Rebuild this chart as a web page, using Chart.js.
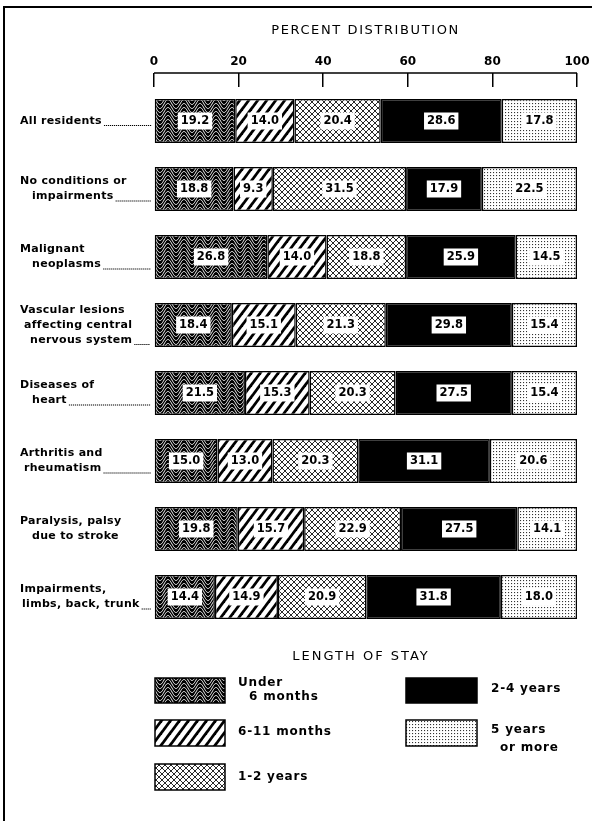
<!DOCTYPE html>
<html><head><meta charset="utf-8">
<script src="https://cdn.jsdelivr.net/npm/chart.js@4"></script>
<style>html,body{margin:0;padding:0;background:#fff;}canvas{display:block}</style>
</head><body><canvas id="c" width="595" height="821" style="width:595px;height:821px"></canvas>
<script>
// ---- data ----
const categories = [
  ['All residents'],
  ['No conditions or', 'impairments'],
  ['Malignant', 'neoplasms'],
  ['Vascular lesions', 'affecting central', 'nervous system'],
  ['Diseases of', 'heart'],
  ['Arthritis and', 'rheumatism'],
  ['Paralysis, palsy', 'due to stroke'],
  ['Impairments,', 'limbs, back, trunk']
];
const seriesNames = [['Under', '6 months'], ['6-11 months'], ['1-2 years'], ['2-4 years'], ['5 years', 'or more']];
const under6Months = [19.2, 18.8, 26.8, 18.4, 21.5, 15.0, 19.8, 14.4];
const months6to11  = [14.0, 9.3, 14.0, 15.1, 15.3, 13.0, 15.7, 14.9];
const years1to2    = [20.4, 31.5, 18.8, 21.3, 20.3, 20.3, 22.9, 20.9];
const years2to4    = [28.6, 17.9, 25.9, 29.8, 27.5, 31.1, 27.5, 31.8];
const years5plus   = [17.8, 22.5, 14.5, 15.4, 15.4, 20.6, 14.1, 18.0];
const xTickValues  = [0, 20, 40, 60, 80, 100];
const chartTitle = 'PERCENT DISTRIBUTION';
const legendTitle = 'LENGTH OF STAY';

// ---- patterns ----
function tile(w, h, draw) {
  const c = document.createElement('canvas'); c.width = w; c.height = h;
  const g = c.getContext('2d'); draw(g, w, h);
  return document.createElement('canvas').getContext('2d').createPattern(c, 'repeat');
}
const patWave = tile(16, 12, (g, w, h) => {
  g.fillStyle = '#000'; g.fillRect(0, 0, w, h);
  g.strokeStyle = '#fff'; g.lineWidth = 1;
  for (let k = -3; k <= 5; k++) {
    g.beginPath();
    for (let x = 0; x <= w; x += 0.5) {
      const y = k * 4 + 4.5 * Math.cos(2 * Math.PI * x / w);
      if (x === 0) g.moveTo(x, y); else g.lineTo(x, y);
    }
    g.stroke();
  }
});
const patStripe = tile(9, 12, (g, w, h) => {
  g.fillStyle = '#fff'; g.fillRect(0, 0, w, h);
  g.strokeStyle = '#000'; g.lineWidth = 2.8;
  for (const o of [-9, 0, 9]) { g.beginPath(); g.moveTo(o - 0.75, h + 1); g.lineTo(o + w + 0.75, -1); g.stroke(); }
});
const patCross = tile(6, 6, (g, w, h) => {
  g.fillStyle = '#fff'; g.fillRect(0, 0, w, h);
  g.strokeStyle = '#111'; g.lineWidth = 0.9;
  for (const o of [-6, 0, 6]) {
    g.beginPath(); g.moveTo(o, 0); g.lineTo(o + 6, 6); g.stroke();
    g.beginPath(); g.moveTo(o, 6); g.lineTo(o + 6, 0); g.stroke();
  }
  g.fillStyle = '#fff'; g.fillRect(2.5, 0, 1, 1); g.fillRect(0, 2.5, 1, 1);
});
const patDots = tile(3, 3, (g, w, h) => {
  g.fillStyle = '#fff'; g.fillRect(0, 0, w, h);
  g.fillStyle = '#333'; g.fillRect(1, 1, 1.1, 1.1);
});
const fills = [patWave, patStripe, patCross, '#000', patDots];
const seriesData = [under6Months, months6to11, years1to2, years2to4, years5plus];

const FONT = '"DejaVu Sans", sans-serif';

// ---- plugins ----
const decor = {
  id: 'decor',
  beforeDraw(chart) {
    const ctx = chart.ctx;
    ctx.save();
    ctx.fillStyle = '#fff'; ctx.fillRect(0, 0, chart.width, chart.height);
    ctx.strokeStyle = '#000'; ctx.lineWidth = 2;
    ctx.beginPath(); ctx.moveTo(4, 821); ctx.lineTo(4, 7); ctx.lineTo(592, 7); ctx.stroke();
    const ca = chart.chartArea;
    ctx.fillStyle = '#000'; ctx.font = '13px ' + FONT; ctx.letterSpacing = '1.6px';
    ctx.textAlign = 'center'; ctx.textBaseline = 'middle';
    ctx.fillText(chartTitle, (ca.left + ca.right) / 2, 31);
    ctx.restore();
  },
  afterDraw(chart) {
    const ctx = chart.ctx, xs = chart.scales.x, ys = chart.scales.y;
    ctx.save();
    const yLine = xs.bottom - xs.options.grid.tickLength;
    ctx.strokeStyle = '#000'; ctx.lineWidth = 1.5;
    ctx.beginPath(); ctx.moveTo(xs.getPixelForValue(0), yLine); ctx.lineTo(xs.getPixelForValue(100), yLine); ctx.stroke();

    const indents = [[0], [0, 12], [0, 12], [0, 4, 10], [0, 12], [0, 4], [0, 12], [0, 2]];
    const noLeader = [6];
    const lh = 15;
    ctx.font = 'bold 11px ' + FONT; ctx.letterSpacing = '0.3px';
    ctx.fillStyle = '#000'; ctx.textAlign = 'left'; ctx.textBaseline = 'middle';
    categories.forEach((lines, i) => {
      const cy = ys.getPixelForValue(i);
      const y0 = cy - (lines.length - 1) * lh / 2;
      lines.forEach((t, j) => {
        ctx.fillText(t, 20 + indents[i][j], y0 + j * lh);
      });
      if (!noLeader.includes(i)) {
        const j = lines.length - 1;
        const xEnd = 20 + indents[i][j] + ctx.measureText(lines[j]).width + 2;
        const yl = y0 + j * lh + 4;
        for (let x = xEnd; x < xs.left - 4; x += 2) ctx.fillRect(x, yl, 1.2, 1);
      }
    });

    ctx.letterSpacing = '2px';
    ctx.font = '13px ' + FONT; ctx.textAlign = 'center';
    ctx.fillText(legendTitle, 361, 657);
    const boxes = [[155, 678, 70, 25], [155, 720, 70, 26], [155, 764, 70, 26], [406, 678, 71, 25], [406, 720, 71, 26]];
    const textPos = [[[238, 683], [249, 697]], [[238, 732]], [[238, 777]], [[491, 689]], [[491, 730], [500, 748]]];
    ctx.font = 'bold 12px ' + FONT; ctx.letterSpacing = '0.8px'; ctx.textAlign = 'left';
    chart.data.datasets.forEach((ds, i) => {
      const [bx, by, bw, bh] = boxes[i];
      ctx.fillStyle = ds.backgroundColor; ctx.fillRect(bx, by, bw, bh);
      ctx.strokeStyle = '#000'; ctx.lineWidth = 1.5; ctx.strokeRect(bx, by, bw, bh);
      ctx.fillStyle = '#000';
      seriesNames[i].forEach((t, j) => ctx.fillText(t, textPos[i][j][0], textPos[i][j][1]));
    });
    ctx.restore();
  },
  afterDatasetsDraw(chart) {
    const ctx = chart.ctx;
    ctx.save();
    ctx.font = 'bold 11.5px ' + FONT; ctx.letterSpacing = '0px';
    ctx.textAlign = 'center'; ctx.textBaseline = 'middle';
    chart.data.datasets.forEach((ds, di) => {
      const meta = chart.getDatasetMeta(di);
      meta.data.forEach((bar, i) => {
        const t = ds.data[i].toFixed(1);
        const cx = (bar.x + bar.base) / 2, cy = bar.y;
        const w = ctx.measureText(t).width + 6, h = 17;
        ctx.fillStyle = '#fff'; ctx.fillRect(cx - w / 2, cy - h / 2, w, h);
        ctx.fillStyle = '#000'; ctx.fillText(t, cx, cy + 0.5);
      });
    });
    ctx.restore();
  }
};

new Chart(document.getElementById('c'), {
  type: 'bar',
  data: {
    labels: categories.map(l => l.join(' ')),
    datasets: seriesData.map((d, i) => ({
      label: seriesNames[i].join(' '),
      data: d,
      backgroundColor: fills[i],
      borderColor: '#000',
      borderWidth: 1.5,
      borderSkipped: false,
      barPercentage: 0.65,
      categoryPercentage: 1
    }))
  },
  options: {
    indexAxis: 'y',
    responsive: false,
    animation: false,
    devicePixelRatio: 1,
    layout: { padding: { top: 40, left: 154, right: 18, bottom: 190 } },
    plugins: { legend: { display: false }, tooltip: { enabled: false } },
    scales: {
      x: {
        position: 'top', stacked: true, min: 0, max: 100,
        afterBuildTicks: s => { s.ticks = xTickValues.map(v => ({ value: v })); },
        afterFit: s => { s.height = 47; },
        ticks: { color: '#000', font: { family: FONT, size: 12, weight: 'bold' }, padding: 4, maxRotation: 0 },
        grid: { drawOnChartArea: false, drawTicks: true, tickLength: 14, color: '#000', lineWidth: 1.5 },
        border: { display: false }
      },
      y: { stacked: true, display: false }
    }
  },
  plugins: [decor]
});
</script>
</body></html>
